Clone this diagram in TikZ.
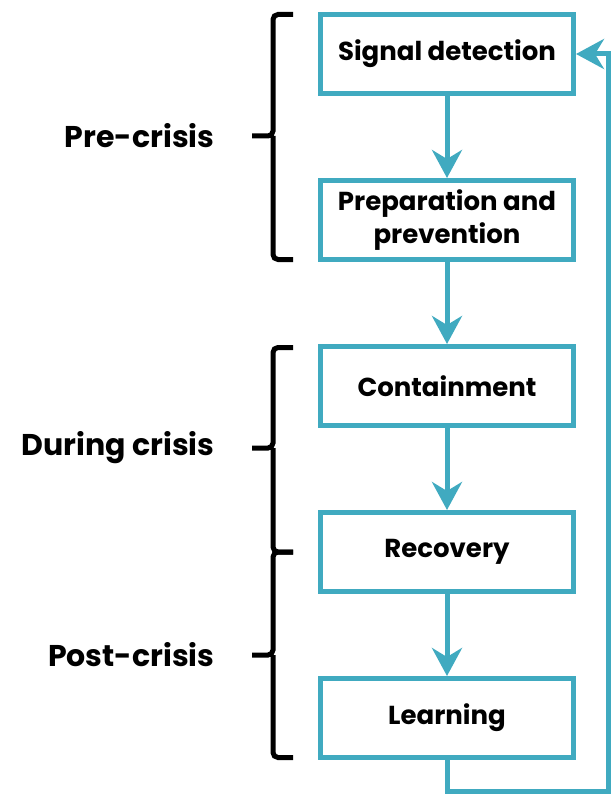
\documentclass[tikz,border=0pt]{standalone}
\usepackage{fontspec}
\setmainfont{Poppins}
\usetikzlibrary{arrows.meta,positioning}
\definecolor{phaseteal}{RGB}{64,170,192}
\tikzset{
    stage/.style={rectangle, draw=phaseteal, line width=5pt, minimum width=253pt, minimum height=79pt, align=center, font=\fontsize{26}{33}\selectfont\bfseries},
    flow/.style={draw=phaseteal, line width=5pt, -{Stealth[length=28pt, width=30pt, inset=9pt]}},
    bracket/.style={draw=black, line width=5pt, rounded corners=5pt},
    phase/.style={anchor=east, font=\fontsize{30}{34}\selectfont\bfseries}
}

\begin{document}
\begin{tikzpicture}[x=1pt, y=-1pt]
    \useasboundingbox (0,0) rectangle (611,794);

    % stages
    \node [stage] (signal) at (447,54) {Signal detection};
    \node [stage, below=82pt of signal] (prep) {Preparation and\\prevention};
    \node [stage, below=82pt of prep] (contain) {Containment};
    \node [stage, below=82pt of contain] (recover) {Recovery};
    \node [stage, below=82pt of recover] (learn) {Learning};

    \path [flow] (signal) -- (prep);
    \path [flow] (prep) -- (contain);
    \path [flow] (contain) -- (recover);
    \path [flow] (recover) -- (learn);

    % feedback loop
    \coordinate (loopturn) at (608,791);
    \path [flow] (learn.south) |- (loopturn) |- (signal.east);

    % phase brackets
    \path [bracket] (293,14.5) -| (273,136) -- (252,136) (273,136) |- (293,259.5);
    \path [bracket] (293,347.5) -| (273,448) -- (252,448) (273,448) |- (293,552);
    \path [bracket] (293,552) -| (273,655) -- (252,655) (273,655) |- (293,757.5);

    \node [phase] (pre) at (218,136) {Pre-crisis};
    \node [phase] (during) at (218,448) {During crisis};
    \node [phase] (post) at (218,655) {Post-crisis};
\end{tikzpicture}
\end{document}
